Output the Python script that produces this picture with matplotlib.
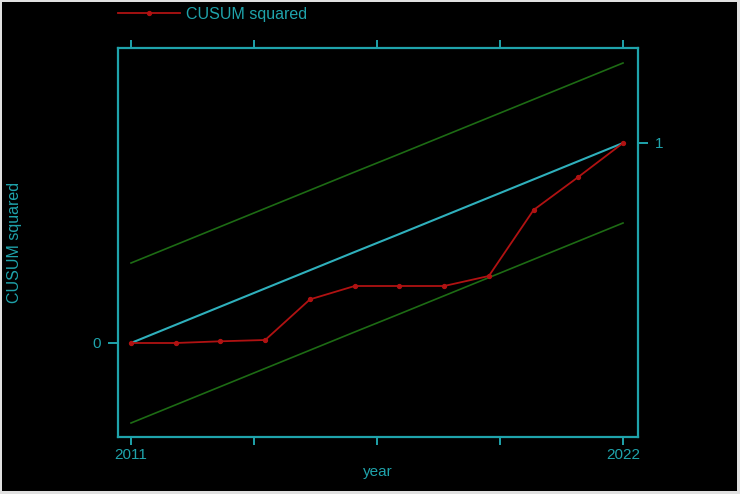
import matplotlib
matplotlib.use("Agg")
import matplotlib.pyplot as plt
from matplotlib.patches import Rectangle

years = [2011, 2012, 2013, 2014, 2015, 2016, 2017, 2018, 2019, 2020, 2021, 2022]
cusum_sq = [0.0, 0.0, 0.0085, 0.015, 0.218, 0.285, 0.285, 0.285, 0.335, 0.665, 0.83, 1.0]
expected = [0.0, 0.091, 0.182, 0.273, 0.364, 0.455, 0.545, 0.636, 0.727, 0.818, 0.909, 1.0]
upper = [0.4, 0.491, 0.582, 0.673, 0.764, 0.855, 0.945, 1.036, 1.127, 1.218, 1.309, 1.4]
lower = [-0.4, -0.309, -0.218, -0.127, -0.036, 0.055, 0.145, 0.236, 0.327, 0.418, 0.509, 0.6]
xtick_pos = [2011, 2013.75, 2016.5, 2019.25, 2022]
xtick_labels = ["2011", "", "", "", "2022"]

plt.rcParams['font.family'] = ['Liberation Sans', 'DejaVu Sans']

CYAN = '#1fa3ab'
LINE_CYAN = '#2fb0bc'
RED = '#b01212'
GREEN = '#1d6b14'

fig = plt.figure(figsize=(7.4, 4.94), dpi=100, facecolor='#e0e0e0')
fig.patches.append(Rectangle((2/740, 3/494), 735/740, 489/494, transform=fig.transFigure,
                             facecolor='black', edgecolor='none', zorder=-10))

ax = fig.add_axes([118/740, 1-437/494, 520/740, 389/494])
ax.set_facecolor('black')

ax.plot(years, upper, color=GREEN, lw=1.2)
ax.plot(years, lower, color=GREEN, lw=1.2)
ax.plot(years, expected, color=LINE_CYAN, lw=1.5)
ax.plot(years, cusum_sq, color=RED, lw=1.3, marker='o', markersize=2.8, label='CUSUM squared')

ax.set_xlim(2010.709, 2022.335)
ax.set_ylim(-0.47, 1.475)

for s in ax.spines.values():
    s.set_color(CYAN)
    s.set_linewidth(1.6)

ax.set_xticks(xtick_pos)
ax.set_xticklabels(xtick_labels)
ax.tick_params(axis='x', which='both', top=True, bottom=True, direction='out', length=6,
               width=1.4, color=CYAN, labelcolor=CYAN, labelsize=11, pad=2)
ax.set_yticks([0])
ax.set_yticklabels(["0"])
ax.tick_params(axis='y', direction='out', length=7, width=1.4, color=CYAN,
               labelcolor=CYAN, labelsize=11, pad=5)

ax2 = ax.twinx()
ax2.set_ylim(ax.get_ylim())
ax2.set_yticks([1])
ax2.set_yticklabels(["1"])
ax2.tick_params(axis='y', direction='out', length=7, width=1.4, color=CYAN,
                labelcolor=CYAN, labelsize=11, pad=5)
for s in ax2.spines.values():
    s.set_visible(False)

ax.set_xlabel('year', color=CYAN, fontsize=11, labelpad=2)
fig.text(15/740, 1-242/494, 'CUSUM squared', rotation=90, color=CYAN, fontsize=11.5,
         ha='center', va='center')

leg = fig.legend(loc='center left', bbox_to_anchor=(118/740, 1-14/494), frameon=False,
                 borderpad=0, borderaxespad=0, handlelength=3.9, handletextpad=0.35,
                 fontsize=11.5, numpoints=1)
for t in leg.get_texts():
    t.set_color(CYAN)

fig.savefig('out.png', dpi=100, facecolor=fig.get_facecolor())
